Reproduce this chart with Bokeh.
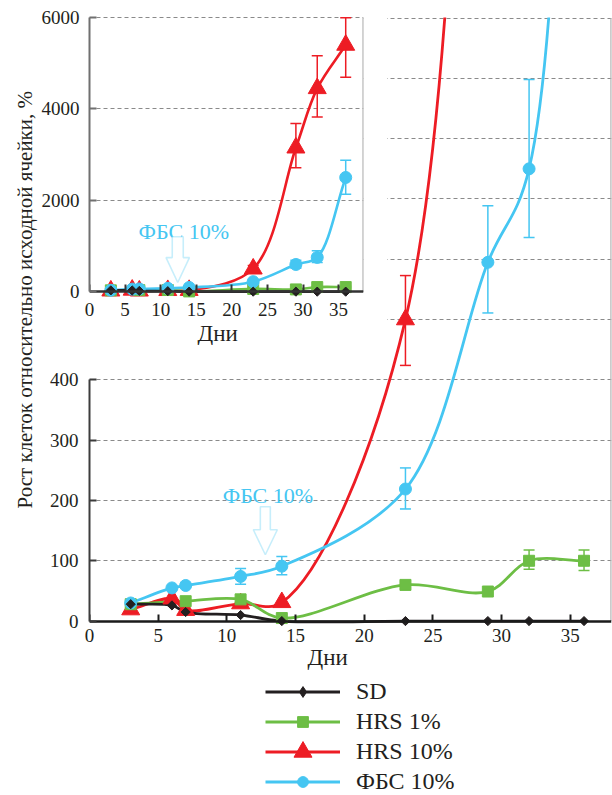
import numpy as np
from bokeh.plotting import figure
from bokeh.models import (ColumnDataSource, FixedTicker, Whisker, TeeHead, Label,
                          PolyAnnotation, Legend, LegendItem, LinearAxis, Title)
from bokeh.embed import file_html
from bokeh.resources import INLINE

# ---------------- data ----------------
days_sd = [3, 6, 7, 11, 14, 23, 29, 32, 36]
sd = [28, 26, 15, 10, 0, 0, 0, 0, 0]
days_hrs1 = [3, 7, 11, 14, 23, 29, 32, 36]
hrs1 = [28, 33, 36, 5, 60, 49, 100, 100]
days_hrs10 = [3, 6, 7, 11, 14, 23, 29, 32, 36]
hrs10 = [19, 37, 18, 29, 31, 500, 3150, 4450, 5400]
days_fbs = [3, 6, 7, 11, 14, 23, 29, 32, 36]
fbs = [30, 55, 59, 74, 91, 219, 595, 750, 2500]

err_days_hrs1 = [32, 36]
err_lo_hrs1 = [86, 84]
err_hi_hrs1 = [118, 118]
err_days_hrs10 = [23, 29, 32, 36]
err_lo_hrs10 = [424, 2713, 3823, 4694]
err_hi_hrs10 = [573, 3680, 5167, 6000]
err_days_fbs = [11, 14, 23, 29, 32, 36]
err_lo_fbs = [61, 77, 186, 511, 636, 2134]
err_hi_fbs = [87, 107, 254, 689, 898, 2880]

main_xticks = [0, 5, 10, 15, 20, 25, 30, 35]
main_yticks = [0, 100, 200, 300, 400]
main_gridlines = [100, 200, 300, 400, 500, 600, 700, 800, 900, 1000]
inset_xticks = [0, 5, 10, 15, 20, 25, 30, 35]
inset_yticks = [0, 2000, 4000, 6000]

series_labels = ["SD", "HRS 1%", "HRS 10%", "ФБС 10%"]
x_title = "Дни"
y_title = "Рост клеток относительно исходной ячейки, %"
note_text = "ФБС 10%"

# ---------------- style ----------------
C_SD = "#231f20"
C_H1 = "#6dbe45"
C_H10 = "#ed1c24"
C_FBS = "#45c6f2"
FONT = "Liberation Serif"
TXT = "#231f20"
GRID_C = "#8a8a8a"

series = [
    # label, x, y, color, marker, size, angle, errors, legend marker, legend swatch height
    (series_labels[2], days_hrs10, hrs10, C_H10, "triangle", 18, 0.0,
     (err_days_hrs10, err_lo_hrs10, err_hi_hrs10), "triangle", 45),
    (series_labels[1], days_hrs1, hrs1, C_H1, "square", 11, 0.0,
     (err_days_hrs1, err_lo_hrs1, err_hi_hrs1), "square", 27),
    (series_labels[3], days_fbs, fbs, C_FBS, "circle", 12, 0.0,
     (err_days_fbs, err_lo_fbs, err_hi_fbs), "circle", 27),
    (series_labels[0], days_sd, sd, C_SD, "square", 6.5, np.pi / 4, None,
     "diamond", 27),
]
style_of = {s[0]: s for s in series}


def smooth(xs, ys, kx, ky, alpha=0.5):
    """Centripetal Catmull-Rom through the points (in screen proportions),
    returned as cubic Bezier segments in data units."""
    P = np.column_stack([np.asarray(xs, float) * kx, np.asarray(ys, float) * ky])
    n = len(P)
    d = np.linalg.norm(np.diff(P, axis=0), axis=1)
    dt = np.maximum(d, 1e-6) ** alpha
    m = np.zeros_like(P)
    m[0] = (P[1] - P[0]) / dt[0]
    m[-1] = (P[-1] - P[-2]) / dt[-1]
    for i in range(1, n - 1):
        m[i] = ((P[i] - P[i - 1]) / dt[i - 1]
                - (P[i + 1] - P[i - 1]) / (dt[i - 1] + dt[i])
                + (P[i + 1] - P[i]) / dt[i])
    c1 = P[:-1] + m[:-1] * dt[:, None] / 3.0
    c2 = P[1:] - m[1:] * dt[:, None] / 3.0
    return dict(x0=P[:-1, 0] / kx, y0=P[:-1, 1] / ky,
                x1=P[1:, 0] / kx, y1=P[1:, 1] / ky,
                cx0=c1[:, 0] / kx, cy0=c1[:, 1] / ky,
                cx1=c2[:, 0] / kx, cy1=c2[:, 1] / ky)


def style_axes(fig, xticks, yticks, ybounds, xstand, ystand, ycol, xcol,
               title_offset, title_standoff, title_valign):
    fig.xaxis.ticker = FixedTicker(ticks=xticks)
    fig.yaxis.ticker = FixedTicker(ticks=yticks)
    fig.yaxis.bounds = ybounds
    # axis line + inward ticks drawn at y = 0, its own labels hidden
    xa = fig.xaxis[0]
    xa.fixed_location = 0
    xa.major_label_text_font_size = "0px"
    xa.major_label_standoff = 0
    for ax in (xa, fig.yaxis[0]):
        ax.major_tick_in = 7
        ax.major_tick_out = 0
        ax.minor_tick_line_color = None
        ax.major_tick_line_width = 2
        ax.axis_line_width = 2
    ya = fig.yaxis[0]
    ya.major_label_text_font = FONT
    ya.major_label_text_font_size = "19px"
    ya.major_label_text_color = TXT
    ya.major_label_standoff = ystand
    ya.axis_line_color = ycol
    ya.major_tick_line_color = ycol
    xa.axis_line_color = xcol
    xa.major_tick_line_color = xcol
    xa.axis_line_width = 2.5
    # second bottom axis carrying only the tick labels
    lab = LinearAxis(ticker=FixedTicker(ticks=xticks), axis_line_color=None,
                     major_tick_line_color=None, minor_tick_line_color=None,
                     major_tick_in=0, major_tick_out=0,
                     major_label_text_font=FONT, major_label_text_font_size="19px",
                     major_label_text_color=TXT, major_label_standoff=xstand)
    fig.add_layout(lab, "below")
    fig.add_layout(Title(text=x_title, align="left", offset=title_offset,
                         standoff=title_standoff, vertical_align=title_valign,
                         text_font=FONT, text_font_size="23px",
                         text_font_style="normal", text_color=TXT), "below")
    fig.xgrid.visible = False
    fig.ygrid.grid_line_color = GRID_C
    fig.ygrid.grid_line_dash = "4 3"
    fig.ygrid.grid_line_width = 1


def add_arrow(fig, tip_x, tip_y, kx, ky, shaft_hw, head_hw, head_len, total):
    dx = [0, -head_hw, -shaft_hw, -shaft_hw, shaft_hw, shaft_hw, head_hw]
    dy = [0, head_len, head_len, total, total, head_len, head_len]
    fig.add_layout(PolyAnnotation(
        xs=[tip_x + a / kx for a in dx], ys=[tip_y + b / ky for b in dy],
        fill_color="white", fill_alpha=1.0, line_color=C_FBS, line_width=1.6))


def draw_series(fig, kx, ky, ymax, width):
    for (lab, xs, ys, col, mk, sz, ang, err, lmk, lgh) in series:
        segs = smooth(xs, ys, kx, ky)
        fig.bezier(x0="x0", y0="y0", x1="x1", y1="y1", cx0="cx0", cy0="cy0",
                   cx1="cx1", cy1="cy1", source=ColumnDataSource(segs),
                   line_color=col, line_width=width)
    for (lab, xs, ys, col, mk, sz, ang, err, lmk, lgh) in series:
        if err is not None:
            ed, lo, hi = err
            keep = [i for i in range(len(ed)) if hi[i] <= ymax]
            if keep:
                src = ColumnDataSource(dict(x=[ed[i] for i in keep],
                                            lo=[lo[i] for i in keep],
                                            hi=[hi[i] for i in keep]))
                fig.add_layout(Whisker(
                    base="x", lower="lo", upper="hi", source=src,
                    dimension="height", line_color=col, line_width=1.5,
                    upper_head=TeeHead(size=11, line_color=col, line_width=1.5),
                    lower_head=TeeHead(size=11, line_color=col, line_width=1.5)))
    for (lab, xs, ys, col, mk, sz, ang, err, lmk, lgh) in series:
        fig.scatter(xs, ys, marker=mk, size=sz, angle=ang,
                    fill_color=col, line_color=col, line_width=1)


def bare_canvas(w, h, left, top):
    f = figure(width=w, height=h, x_range=(0, 1), y_range=(0, 1),
               output_backend="svg", toolbar_location=None,
               x_axis_type=None, y_axis_type=None,
               min_border_left=0, min_border_right=0, min_border_top=0,
               min_border_bottom=0, outline_line_color=None,
               background_fill_alpha=0, border_fill_alpha=0,
               styles={"position": "absolute", "left": f"{left}px",
                       "top": f"{top}px", "z-index": "11"})
    f.xgrid.visible = False
    f.ygrid.visible = False
    return f


# ---------------- main plot ----------------
MW, MH = 612, 795
M_L, M_R, M_T, M_B = 89, 1, 17, 169
MX0, MX1 = 0, 38
MY0, MY1 = -9, 1001
mfw = MW - M_L - M_R
mfh = MH - M_T - M_B
mkx = mfw / (MX1 - MX0)
mky = mfh / (MY1 - MY0)

p = figure(width=MW, height=MH, x_range=(MX0, MX1), y_range=(MY0, MY1),
           output_backend="svg", toolbar_location=None,
           min_border_left=M_L, min_border_right=M_R,
           min_border_top=M_T, min_border_bottom=M_B,
           outline_line_color=None, background_fill_color="white")
style_axes(p, main_xticks, main_yticks, (0, 400), 2, 11, "#3c3c3c", "#1a1a1a",
           218, 0, "top")
p.ygrid.ticker = FixedTicker(ticks=main_gridlines)

# right frame border
p.segment(x0=[MX1 * 0.9997], y0=[0], x1=[MX1 * 0.9997], y1=[1000],
          line_color="#b0b0b0", line_width=2)

draw_series(p, mkx, mky, 1000, 2.8)

p.add_layout(Label(x=9.7, y=208, text=note_text, text_align="left",
                   text_baseline="alphabetic", text_font=FONT,
                   text_font_size="22px", text_color=C_FBS))
add_arrow(p, 12.8, 110, mkx, mky, 5, 12, 25, 48)

# ---------------- inset ----------------
IW, IH = 350, 337
I_L, I_R, I_T, I_B = 52, 24, 8, 46
IX0, IX1 = 0, 38.5
IY0, IY1 = -150, 6025
ifw = IW - I_L - I_R
ifh = IH - I_T - I_B
ikx = ifw / (IX1 - IX0)
iky = ifh / (IY1 - IY0)

q = figure(width=IW, height=IH, x_range=(IX0, IX1), y_range=(IY0, IY1),
           output_backend="svg", toolbar_location=None,
           min_border_left=I_L, min_border_right=I_R,
           min_border_top=I_T, min_border_bottom=I_B,
           outline_line_color=None, background_fill_color="white",
           border_fill_color="white",
           styles={"position": "absolute", "left": "37px", "top": "8px",
                   "z-index": "10"})
style_axes(q, inset_xticks, inset_yticks, (0, 6000), 4, 10, "#707070", "#333333",
           108, 0, "bottom")
q.segment(x0=[IX1 * 0.9997], y0=[0], x1=[IX1 * 0.9997], y1=[6000],
          line_color="#b0b0b0", line_width=2)
draw_series(q, ikx, iky, 6025, 2.6)

q.add_layout(Label(x=6.9, y=1320, text=note_text, text_align="left",
                   text_baseline="alphabetic", text_font=FONT,
                   text_font_size="22px", text_color=C_FBS))
add_arrow(q, 12.4, 200, ikx, iky, 5.5, 11.7, 25, 46)

# ---------------- y-axis title (transparent canvas at the left edge) ----------------
yt = bare_canvas(32, 460, 8, 52)
yt.add_layout(Label(x=16, y=4, x_units="screen", y_units="screen", angle=90,
                    angle_units="deg", text=y_title, text_align="left",
                    text_baseline="middle", text_font=FONT,
                    text_font_size="21px", text_color=TXT))

# ---------------- legend (own small canvas below the main plot) ----------------
LG_W, LG_H = 230, 118
ROW0, ROW_PITCH = 14, 30          # first row centre and row pitch, px
lg = bare_canvas(LG_W, LG_H, 265, 677)
for k, s in enumerate(series_labels):
    (lab, xs, ys, col, mk, sz, ang, err, lmk, lgh) = style_of[s]
    # first points of the series, outside this canvas's range: legend swatch source
    lr = lg.line(x=xs[:2], y=ys[:2], line_color=col, line_width=3)
    mr = lg.scatter(x=xs[:1], y=ys[:1], marker=lmk, size=sz,
                    fill_color=col, line_color=col, line_width=1)
    centre = ROW0 + k * ROW_PITCH
    bottom = LG_H - (centre + lgh / 2.0)
    lg.add_layout(Legend(items=[LegendItem(label=s, renderers=[lr, mr])],
                         location=(0, bottom), orientation="vertical",
                         glyph_width=75, glyph_height=lgh, label_height=24,
                         label_standoff=16, spacing=0, padding=0, margin=0,
                         border_line_alpha=0, background_fill_alpha=0,
                         label_text_font=FONT, label_text_font_size="24px",
                         label_text_color=TXT))

open("out.html", "w").write(file_html([p, q, yt, lg], INLINE))
